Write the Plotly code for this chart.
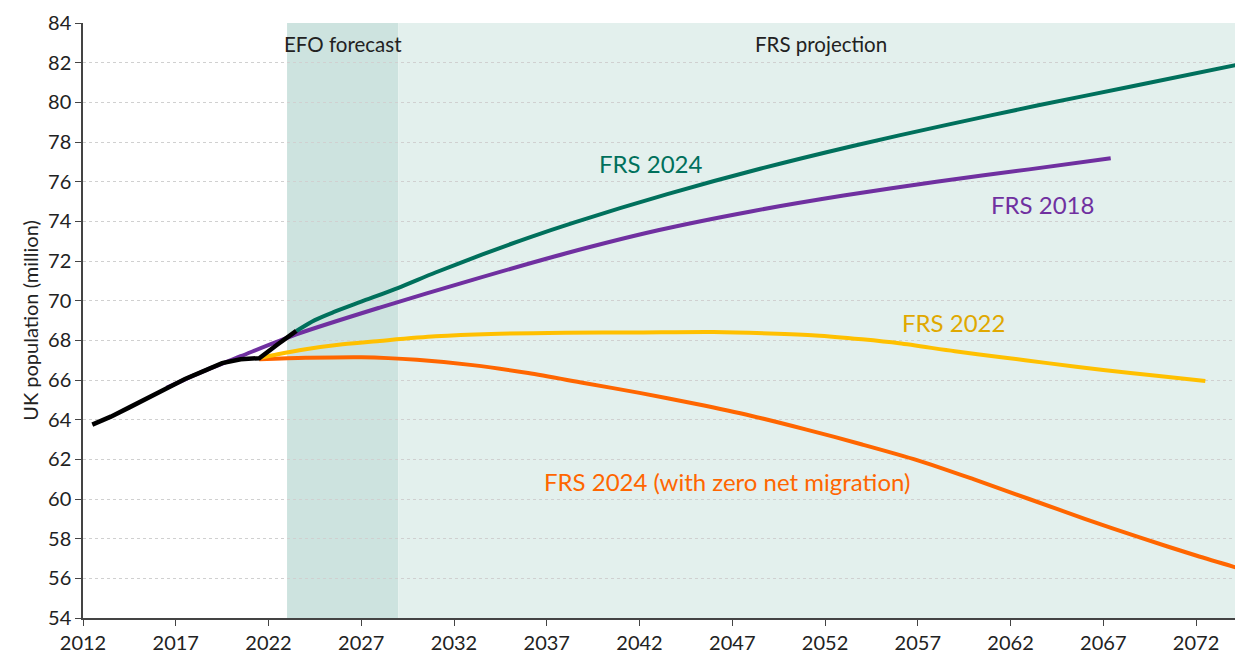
import plotly.graph_objects as go

# Outturn UK population (mid-year, million)
outturn_years = [2012.5, 2013.5, 2014.5, 2015.5, 2016.5, 2017.5, 2018.5, 2019.5,
                 2020.5, 2021.5, 2022.5, 2023.5]
outturn_pop = [63.75, 64.15, 64.62, 65.1, 65.6, 66.05, 66.45, 66.85,
               67.05, 67.1, 67.8, 68.48]

# FRS 2018 projection
frs18_years = [2016.5, 2018.5, 2020.5, 2023.5, 2028.0, 2033.0, 2038.0, 2043.0,
               2048.0, 2053.0, 2058.0, 2063.0, 2067.4]
frs18_pop = [65.6, 66.45, 67.2, 68.3, 69.65, 71.05, 72.38, 73.55,
             74.5, 75.3, 76.0, 76.62, 77.18]

# FRS 2022 projection
frs22_years = [2021.5, 2022.5, 2024.0, 2026.0, 2028.0, 2031.0, 2034.0, 2038.0,
               2042.0, 2046.0, 2049.0, 2051.5, 2054.0, 2056.0, 2059.0, 2061.5,
               2064.0, 2067.0, 2070.0, 2072.5]
frs22_pop = [67.1, 67.3, 67.55, 67.8, 67.97, 68.2, 68.32, 68.38,
             68.4, 68.42, 68.35, 68.25, 68.05, 67.85, 67.45, 67.15,
             66.85, 66.5, 66.2, 65.95]

# FRS 2024 projection
frs24_years = [2023.5, 2024.5, 2025.5, 2027.0, 2029.0, 2031.0, 2033.5, 2036.0,
               2038.5, 2043.5, 2048.5, 2053.5, 2058.5, 2063.5, 2068.5, 2074.5]
frs24_pop = [68.47, 69.02, 69.42, 69.95, 70.65, 71.42, 72.32, 73.17,
             73.95, 75.37, 76.65, 77.8, 78.85, 79.85, 80.8, 81.95]

# FRS 2024 with zero net migration
frs24z_years = [2021.5, 2024.0, 2027.0, 2030.0, 2033.0, 2036.0, 2039.0, 2042.0,
                2045.0, 2048.0, 2051.0, 2054.0, 2057.0, 2060.0, 2063.0, 2066.0,
                2069.0, 2072.0, 2074.5]
frs24z_pop = [67.05, 67.12, 67.15, 67.02, 66.75, 66.35, 65.85, 65.35,
              64.8, 64.2, 63.5, 62.75, 61.95, 61.0, 60.0, 59.0,
              58.05, 57.15, 56.45]

x_ticks = list(range(2012, 2073, 5))
y_ticks = list(range(54, 85, 2))

FONT = "Lato"
TEAL = "#00705C"
PURPLE = "#7030A0"
YELLOW = "#FFC000"
YELLOW_TEXT = "#E0A800"
ORANGE = "#FF6600"
TEXT = "#222222"

fig = go.Figure()

def add_line(xs, ys, color, width=4):
    fig.add_trace(go.Scatter(
        x=xs, y=ys, mode="lines",
        line=dict(color=color, width=width, shape="spline", smoothing=0.8),
        hoverinfo="skip", showlegend=False,
    ))

add_line(frs24z_years, frs24z_pop, ORANGE)
add_line(frs22_years, frs22_pop, YELLOW)
add_line(frs18_years, frs18_pop, PURPLE)
add_line(frs24_years, frs24_pop, TEAL)
fig.add_trace(go.Scatter(
    x=outturn_years, y=outturn_pop, mode="lines",
    line=dict(color="#000000", width=4.5),
    hoverinfo="skip", showlegend=False,
))

# Shaded forecast / projection periods
fig.add_shape(type="rect", xref="x", yref="paper", x0=2023, x1=2029, y0=0, y1=1,
              fillcolor="#CDE3DF", line_width=0, layer="below")
fig.add_shape(type="rect", xref="x", yref="paper", x0=2029, x1=2080, y0=0, y1=1,
              fillcolor="#E3F0ED", line_width=0, layer="below")

def label(text, x, y, color, size=24):
    fig.add_annotation(x=x, y=y, xref="x", yref="y", text=text, showarrow=False,
                       font=dict(family=FONT, size=size, color=color))

label("EFO forecast", 2026, 82.95, TEXT, 20.5)
label("FRS projection", 2051.8, 82.95, TEXT, 20.5)
label("FRS 2024", 2042.6, 76.94, TEAL)
label("FRS 2018", 2063.7, 74.87, PURPLE)
label("FRS 2022", 2058.95, 68.92, YELLOW_TEXT)
label("FRS 2024 (with zero net migration)", 2046.7, 60.9, ORANGE)

fig.update_layout(
    width=1235, height=654,
    margin=dict(l=83, r=0, t=23, b=36),
    paper_bgcolor="white", plot_bgcolor="white",
    font=dict(family=FONT, size=20, color=TEXT),
    showlegend=False,
)
fig.update_xaxes(
    range=[2012, 2074.1], tickvals=x_ticks, ticktext=[str(v) for v in x_ticks],
    showgrid=False, zeroline=False,
    showline=True, linecolor="#444444", linewidth=1.5,
    ticks="outside", ticklen=6, tickcolor="#444444", tickwidth=1.2,
    tickfont=dict(family=FONT, size=20, color=TEXT),
)
fig.update_yaxes(
    range=[54, 84], tickvals=y_ticks,
    showgrid=True, gridcolor="#D0D0D0", gridwidth=1, griddash="dot",
    zeroline=False,
    showline=True, linecolor="#444444", linewidth=1.5,
    ticks="outside", ticklen=6, tickcolor="#444444", tickwidth=1.2,
    tickfont=dict(family=FONT, size=20, color=TEXT),
    title=dict(text="UK population (million)", standoff=4,
               font=dict(family=FONT, size=20, color=TEXT)),
)

fig.write_html("out.html")
